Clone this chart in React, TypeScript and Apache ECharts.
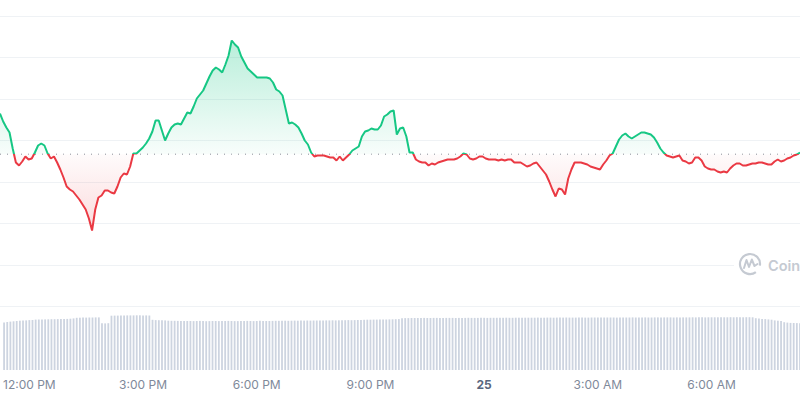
import { useEffect, useRef } from "react";
import * as echarts from "echarts";

// Time base: minutes since 00:00 on the 24th, one sample every 5 minutes
const startMinute = 680;
const stepMinutes = 5;

// Price (arbitrary units, axis hidden in the reference)
const prices = [
  1189, 1181, 1175, 1170, 1154, 1140, 1137, 1141, 1146, 1143,
  1144, 1150, 1157, 1159, 1157, 1149, 1144, 1146, 1140, 1133,
  1125, 1116, 1113, 1111, 1107, 1103, 1098, 1093, 1084, 1072,
  1093, 1105, 1107, 1112, 1112, 1110, 1109, 1116, 1125, 1129,
  1128, 1136, 1149, 1149, 1152, 1155, 1159, 1164, 1171, 1182,
  1182, 1172, 1162, 1169, 1175, 1178, 1179, 1178, 1184, 1190,
  1189, 1196, 1204, 1208, 1212, 1219, 1226, 1232, 1235, 1233,
  1230, 1238, 1247, 1262, 1258, 1255, 1246, 1240, 1234, 1231,
  1228, 1225, 1225, 1225, 1225, 1224, 1220, 1213, 1211, 1207,
  1193, 1179, 1180, 1178, 1175, 1169, 1162, 1158, 1150, 1146,
  1147, 1147, 1147, 1146, 1145, 1145, 1142, 1146, 1142, 1145,
  1148, 1152, 1154, 1156, 1166, 1171, 1172, 1174, 1173, 1173,
  1177, 1186, 1188, 1191, 1192, 1168, 1174, 1175, 1166, 1150,
  1150, 1143, 1141, 1140, 1140, 1137, 1139, 1138, 1140, 1141,
  1142, 1143, 1143, 1143, 1144, 1146, 1149, 1148, 1144, 1143,
  1144, 1146, 1146, 1144, 1143, 1143, 1143, 1142, 1143, 1142,
  1143, 1143, 1140, 1140, 1140, 1138, 1136, 1137, 1139, 1140,
  1136, 1132, 1128, 1121, 1113, 1106, 1114, 1113, 1108, 1124,
  1133, 1140, 1140, 1140, 1139, 1138, 1136, 1135, 1134, 1133,
  1138, 1142, 1147, 1149, 1156, 1163, 1167, 1169, 1166, 1164,
  1166, 1168, 1170, 1170, 1169, 1168, 1165, 1160, 1154, 1150,
  1147, 1146, 1145, 1146, 1147, 1142, 1141, 1139, 1140, 1145,
  1145, 1142, 1136, 1134, 1133, 1133, 1131, 1130, 1131, 1130,
  1134, 1137, 1139, 1139, 1137, 1137, 1138, 1139, 1139, 1140,
  1140, 1139, 1138, 1138, 1141, 1143, 1141, 1142, 1144, 1145,
  1147, 1148, 1150,
];

// Opening price of the period (dotted reference line)
const openPrice = 1148.3;

// Volume (arbitrary units)
const volumes = [
  47.6, 48.0, 48.4, 48.7,
  49.0, 49.3, 49.5, 49.6, 49.9, 50.1,
  50.4, 50.5, 50.6, 50.6, 50.7, 50.8, 50.8, 50.9, 51.0, 51.1, 51.1, 51.3, 51.6,
  52.2, 52.3, 52.4, 52.4, 52.5, 52.5, 52.6, 52.6,
  46.7, 46.6, 46.8,
  54.3, 54.4, 54.4, 54.5, 54.5, 54.6, 54.6, 54.6, 54.7, 54.7, 54.6, 54.6, 54.5,
  50.2, 49.9, 49.8, 49.7, 49.6,
  49.3, 49.2, 49.2, 49.1, 49.1, 49.0, 49.0, 49.0, 48.9, 49.0,
  49.1, 48.9, 48.8, 48.9, 49.0, 49.0, 48.9, 48.9, 49.0, 49.1,
  49.0, 48.9, 48.9, 49.0, 49.0, 49.1, 49.0, 48.9, 49.0, 49.2,
  49.1, 49.0, 49.0, 49.1,
  49.2, 49.2, 49.3, 49.3, 49.2, 49.3, 49.4, 49.3, 49.4, 49.4,
  49.5, 49.4, 49.5, 49.5, 49.6, 49.5, 49.6, 49.6, 49.7, 49.6,
  49.7, 49.7, 49.8, 49.9, 49.8, 49.9, 50.0, 50.0,
  50.2, 50.3, 50.3, 50.4, 50.4, 50.5, 50.6, 50.5, 50.6, 50.7, 50.8, 50.9,
  51.8, 51.9, 51.9, 52.0, 52.0, 52.0, 52.0, 52.1, 52.0, 52.0,
  52.1, 52.1, 52.0, 52.0, 52.1, 52.1, 52.1, 52.0, 52.1, 52.1,
  52.1, 52.2, 52.1, 52.1, 52.1, 52.2, 52.2, 52.1, 52.2, 52.2,
  52.2, 52.2, 52.2, 52.3, 52.2, 52.2, 52.3, 52.3, 52.2, 52.3,
  52.3,
  52.3, 52.3, 52.4, 52.3, 52.3, 52.4, 52.4, 52.3, 52.4, 52.4,
  52.4, 52.5, 52.4, 52.4, 52.4, 52.5, 52.5, 52.4, 52.4, 52.5,
  52.5, 52.5, 52.4, 52.5, 52.5, 52.5, 52.5, 52.4, 52.5, 52.5,
  52.5, 52.5, 52.6, 52.5, 52.5, 52.5, 52.6, 52.5, 52.5, 52.6,
  52.6, 52.5, 52.6, 52.6, 52.6, 52.5, 52.6, 52.6, 52.6, 52.6,
  52.6, 52.7, 52.6, 52.7, 52.7, 52.6, 52.7, 52.7, 52.7, 52.7,
  52.8, 52.7, 52.7, 52.8, 52.7, 52.8, 52.8, 52.7, 52.8, 52.8,
  52.7,
  51.8, 51.4, 51.1, 50.9, 50.6, 50.3,
  49.6, 49.3, 49.0,
  47.8, 47.4, 47.1, 47.0, 46.9, 46.8,
];

// X axis ticks (minutes since 00:00 on the 24th) and their labels
const tickMinutes = [720, 900, 1080, 1260, 1440, 1620, 1800];
const tickLabels = ["12:00 PM", "3:00 PM", "6:00 PM", "9:00 PM", "25", "3:00 AM", "6:00 AM"];
const dayLabel = "25";

const GREEN = "#16c784";
const RED = "#ea3943";
const FONT = "Inter, 'Noto Sans', sans-serif";

export default function App() {
  const ref = useRef<HTMLDivElement>(null);

  useEffect(() => {
    if (!ref.current) return;
    const chart = echarts.init(ref.current, undefined, { renderer: "svg" });

    const times = prices.map((_, i) => String(startMinute + i * stepMinutes));
    const openLine = prices.map(() => openPrice);
    const pMax = Math.max(...prices);
    const pMin = Math.min(...prices);
    const split = (pMax - openPrice) / (pMax - pMin);
    const labelIndex = (v: string | number) => tickMinutes.indexOf(Number(v));

    // Filled areas between the price line and the opening price
    const renderAreas = (params: any, api: any) => {
      if (params.dataIndex !== 0) return null;
      const yBase = api.coord([0, openPrice])[1];
      const yTop = api.coord([0, pMax])[1];
      const yBottom = api.coord([0, pMin])[1];
      const up: number[][] = [];
      const down: number[][] = [];
      prices.forEach((p, i) => {
        up.push(api.coord([i, Math.max(p, openPrice)]));
        down.push(api.coord([i, Math.min(p, openPrice)]));
      });
      const xFirst = api.coord([0, openPrice])[0];
      const xLast = api.coord([prices.length - 1, openPrice])[0];
      up.push([xLast, yBase], [xFirst, yBase]);
      down.push([xLast, yBase], [xFirst, yBase]);
      return {
        type: "group",
        children: [
          {
            type: "polygon",
            shape: { points: up },
            style: {
              fill: new echarts.graphic.LinearGradient(
                0, yTop, 0, yBase,
                [
                  { offset: 0, color: "rgba(22,199,132,0.30)" },
                  { offset: 1, color: "rgba(22,199,132,0.03)" },
                ],
                true
              ),
            },
          },
          {
            type: "polygon",
            shape: { points: down },
            style: {
              fill: new echarts.graphic.LinearGradient(
                0, yBase, 0, yBottom,
                [
                  { offset: 0, color: "rgba(234,57,67,0.02)" },
                  { offset: 1, color: "rgba(234,57,67,0.18)" },
                ],
                true
              ),
            },
          },
        ],
      };
    };

    const option: any = {
      animation: false,
      grid: [
        { left: 0, right: 0, top: 16, bottom: 89.5 },
        { left: 0, right: 0, top: 270, bottom: 26 },
      ],
      xAxis: [
        { type: "category", gridIndex: 0, data: times, boundaryGap: false, show: false },
        {
          type: "category",
          gridIndex: 1,
          data: times,
          boundaryGap: false,
          axisLine: { show: false },
          axisTick: { show: false },
          splitLine: { show: false },
          axisLabel: {
            interval: (_i: number, v: string) => labelIndex(v) >= 0,
            margin: 8,
            fontSize: 12,
            fontFamily: FONT,
            color: "#80899a",
            formatter: (v: string) => {
              const idx = labelIndex(v);
              if (idx < 0) return "";
              const t = tickLabels[idx];
              return t === dayLabel ? `{day|${t}}` : t;
            },
            rich: {
              day: { fontWeight: "bold", color: "#58667e", fontSize: 12, fontFamily: FONT },
            },
          },
        },
      ],
      yAxis: [
        {
          type: "value",
          gridIndex: 0,
          min: 996,
          max: 1286.5,
          interval: 41.5,
          axisLabel: { show: false },
          axisLine: { show: false },
          axisTick: { show: false },
          splitLine: { show: true, lineStyle: { color: "#eff2f5", width: 1 } },
        },
        { type: "value", gridIndex: 1, min: 0, max: 100, show: false, splitLine: { show: false } },
      ],
      series: [
        {
          type: "custom",
          xAxisIndex: 0,
          yAxisIndex: 0,
          silent: true,
          data: [[0, openPrice]],
          renderItem: renderAreas,
          z: 1,
        },
        {
          type: "line",
          xAxisIndex: 0,
          yAxisIndex: 0,
          data: openLine,
          showSymbol: false,
          symbol: "none",
          silent: true,
          z: 2,
          lineStyle: { color: "#8a8f98", width: 1, type: [1, 6] },
        },
        {
          type: "line",
          xAxisIndex: 0,
          yAxisIndex: 0,
          data: prices,
          showSymbol: false,
          symbol: "none",
          silent: true,
          z: 5,
          lineStyle: {
            width: 2,
            color: new echarts.graphic.LinearGradient(0, 0, 0, 1, [
              { offset: 0, color: GREEN },
              { offset: split, color: GREEN },
              { offset: split, color: RED },
              { offset: 1, color: RED },
            ]),
          },
        },
        {
          type: "bar",
          xAxisIndex: 1,
          yAxisIndex: 1,
          data: volumes,
          barWidth: 1.8,
          itemStyle: { color: "#cdd4e0" },
          silent: true,
        },
      ],
      graphic: [
        {
          type: "rect",
          z: 100,
          shape: { x: 734, y: 252, width: 66, height: 25 },
          style: { fill: "#ffffff" },
        },
        {
          type: "arc",
          z: 101,
          shape: { cx: 750, cy: 264, r: 10, startAngle: Math.PI * 0.3, endAngle: Math.PI * 2.05 },
          style: { stroke: "#c5cad2", lineWidth: 2.2, fill: "none" },
        },
        {
          type: "polyline",
          z: 101,
          shape: {
            points: [
              [744, 268],
              [746.5, 260],
              [749, 267],
              [751.8, 259.5],
              [754.5, 266],
              [757.5, 264],
            ],
          },
          style: { stroke: "#c5cad2", lineWidth: 2, fill: "none", lineJoin: "round", lineCap: "round" },
        },
        {
          type: "text",
          z: 101,
          x: 768,
          y: 265,
          style: {
            text: "Coin",
            fontSize: 14.5,
            fontWeight: 600,
            fontFamily: FONT,
            fill: "#c5cad2",
            verticalAlign: "middle",
          },
        },
      ],
    };

    chart.setOption(option);
    return () => chart.dispose();
  }, []);

  return (
    <div
      ref={ref}
      style={{ position: "fixed", left: 0, top: 0, width: 800, height: 396, background: "#ffffff" }}
    />
  );
}
